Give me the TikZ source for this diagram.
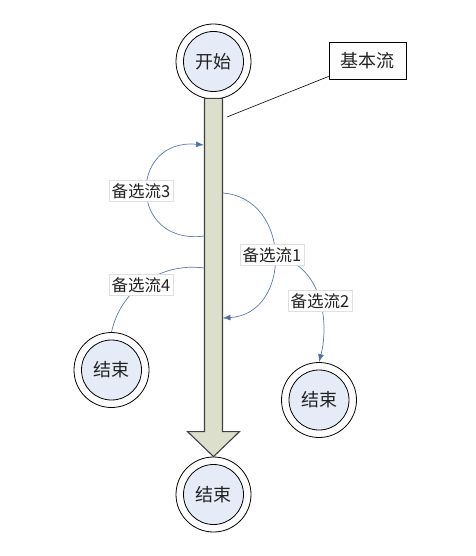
\documentclass[tikz,border=0pt]{standalone}
\usepackage{fontspec}
\newfontfamily\cjk{Noto Sans CJK SC}
\usetikzlibrary{arrows.meta,calc}
\definecolor{flowline}{HTML}{5B7BAA}
\definecolor{flowhead}{HTML}{4A6FAA}
\definecolor{circfill}{HTML}{E6ECF7}
\definecolor{shaftfill}{HTML}{DCDFCB}
\definecolor{txt}{HTML}{222222}
\tikzset{
  cjkfont/.style={font=\cjk\fontsize{16.5}{18}\selectfont, text=txt},
  bigfont/.style={font=\cjk\fontsize{18}{20}\selectfont, text=txt},
  outerc/.style={circle, draw=black, line width=0.8pt, fill=white, minimum size=75pt, inner sep=0pt},
  innerc/.style={circle, draw=black, line width=0.8pt, fill=circfill, minimum size=60pt, inner sep=0pt, bigfont},
  flowlbl/.style={fill=white, draw=black!12, line width=0.4pt, inner xsep=2.5pt, inner ysep=3pt, cjkfont},
  altflow/.style={draw=flowline, line width=0.7pt},
  altarrow/.style={altflow, -{Latex[length=8pt,width=6pt,fill=flowhead]}},
}
\begin{document}
\begin{tikzpicture}[x=1pt,y=-1pt]
\useasboundingbox (0,0) rectangle (475,556);

% circles
\node[outerc] (startO) at (213.5,61.5) {};
\node[innerc] (start) at (startO) {开始};
\node[outerc] (endLO) at (111.5,370) {};
\node[innerc] (endL) at (endLO) {结束};
\node[outerc] (endRO) at (319,400) {};
\node[innerc] (endR) at (endRO) {结束};
\node[outerc] (endBO) at (213.5,494.5) {};
\node[innerc] (endB) at (endBO) {结束};

% main flow block arrow
\draw[draw=black!75, line width=1.1pt, fill=shaftfill, line join=miter]
  ($(startO.south)+(-9,-1)$) -- ($(startO.south)+(9,-1)$)
  -- ($(endBO.north)+(9,-25)$) -- ($(endBO.north)+(26,-25)$)
  -- (endBO.north) -- ($(endBO.north)+(-26,-25)$)
  -- ($(endBO.north)+(-9,-25)$) -- cycle;

% basic flow callout
\node[draw=black, line width=0.8pt, fill=white, minimum width=77pt, minimum height=37pt, inner sep=0pt, bigfont] (basic) at (367.5,60.5) {基本流};
\coordinate (bpt) at (227,117);
\draw[line width=0.6pt, black] ($(basic.south west)+(0,-3)$) -- (bpt);

% shaft anchor points
\coordinate (a3s) at (204.5,236);
\coordinate (a3e) at (204,145);
\coordinate (a1s) at (222.5,193);
\coordinate (a1e) at (222.5,318);
\coordinate (a4s) at (204.5,268);
\coordinate (a2s) at (280,258);

% alternative flows
\draw[altarrow] (a3s) .. controls (128,246) and (128,138) .. (a3e);
\draw[altarrow] (a1s) .. controls (292,198) and (292,314) .. (a1e);
\draw[altarrow] (a2s) .. controls (320,266) and (330,320) .. (endRO.north);
\draw[altflow] (a4s) .. controls (158,262) and (120,292) .. (endLO.north);

% labels
\node[flowlbl] (l3) at (141,191) {备选流3};
\node[flowlbl] (l1) at (272,255) {备选流1};
\node[flowlbl] (l4) at (141,285) {备选流4};
\node[flowlbl] (l2) at (320,301) {备选流2};
\end{tikzpicture}
\end{document}
